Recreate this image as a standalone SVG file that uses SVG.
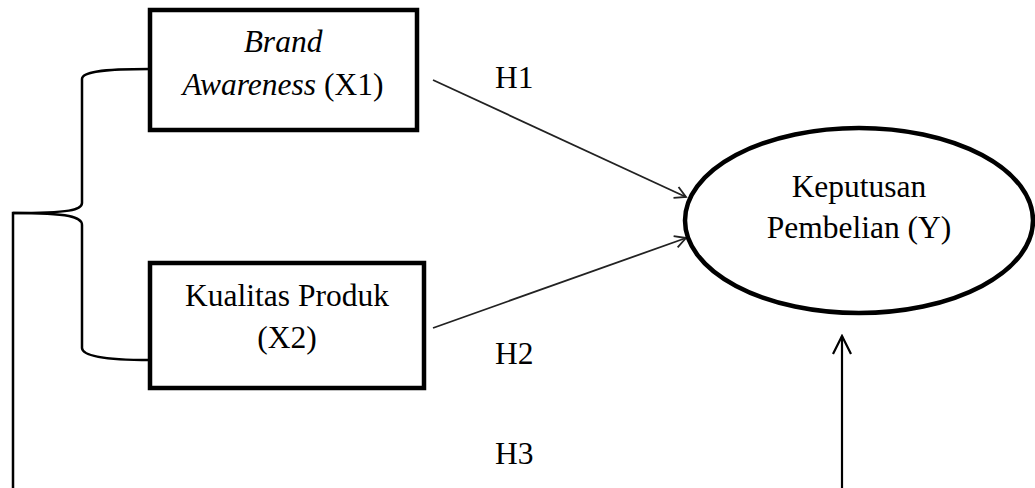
<svg xmlns="http://www.w3.org/2000/svg" width="1035" height="488" viewBox="0 0 1035 488">
<style>
.t{font-family:"Liberation Serif","Times New Roman",serif;font-size:31.5px;fill:#000}
.i{font-style:italic}
.box{fill:#fff;stroke:#000;stroke-width:4.5}
.ln{fill:none;stroke:#000;stroke-width:2.5}
.ar{fill:none;stroke:#222;stroke-width:1.8}
</style>
<defs>
<marker id="oa" markerWidth="14" markerHeight="14" refX="12" refY="7" orient="auto" markerUnits="userSpaceOnUse">
<path d="M1,1 L12,7 L1,13" fill="none" stroke="#222" stroke-width="1.8"/>
</marker>
<marker id="ob" markerWidth="22" markerHeight="22" refX="20" refY="11" orient="auto" markerUnits="userSpaceOnUse">
<path d="M2,2 L20,11 L2,20" fill="none" stroke="#000" stroke-width="2.2"/>
</marker>
</defs>
<g id="connectors">
<path class="ln" d="M150,69 C100,69 82,72 82,79 L82,203 C82,210 70,213 13,213 L13,488"/>
<path class="ln" d="M13,213 C70,213 82,217 82,225 L82,348 C82,355 100,360 150,360"/>
<line class="ar" x1="433" y1="80" x2="686" y2="197" marker-end="url(#oa)"/>
<line class="ar" x1="433" y1="328" x2="686" y2="238" marker-end="url(#oa)"/>
<line x1="842" y1="488" x2="842" y2="336" stroke="#000" stroke-width="2.2" marker-end="url(#ob)"/>
<text class="t" x="495" y="88">H1</text>
<text class="t" x="495" y="364">H2</text>
<text class="t" x="495" y="464">H3</text>
</g>
<g id="node-x1">
<rect class="box" x="150" y="10" width="267" height="120"/>
<text class="t i" x="283" y="52" text-anchor="middle">Brand</text>
<text class="t" x="283" y="95" text-anchor="middle"><tspan class="i">Awareness</tspan> (X1)</text>
</g>
<g id="node-x2">
<rect class="box" x="150" y="263" width="274" height="125"/>
<text class="t" x="287" y="306" text-anchor="middle">Kualitas Produk</text>
<text class="t" x="287" y="348" text-anchor="middle">(X2)</text>
</g>
<g id="node-y">
<ellipse cx="859" cy="220.5" rx="174" ry="92.5" fill="#fff" stroke="#000" stroke-width="4.5"/>
<text class="t" x="859" y="197" text-anchor="middle">Keputusan</text>
<text class="t" x="859" y="238" text-anchor="middle">Pembelian (Y)</text>
</g>
</svg>
